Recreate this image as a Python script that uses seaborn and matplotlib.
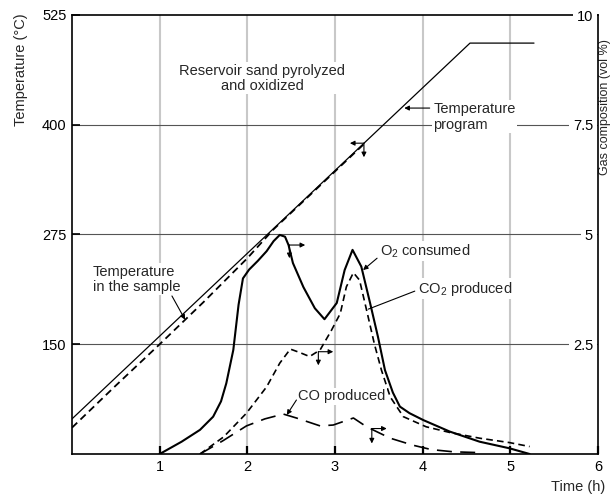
import matplotlib
matplotlib.use("Agg")
import matplotlib.pyplot as plt
import seaborn as sns

# ---------------- data ----------------
prog_time = [0.0, 4.54, 5.27]
prog_temp = [65, 493, 493]

sample_time = [0.0, 0.5, 1.0, 1.5, 2.0, 2.3, 2.8, 3.33]
sample_temp = [55, 103, 150, 198, 248, 281, 328, 378]

o2_time = [1.0, 1.25, 1.46, 1.61, 1.7, 1.76, 1.84, 1.9, 1.95, 2.02, 2.12, 2.22, 2.3,
           2.37, 2.43, 2.47, 2.52, 2.64, 2.77, 2.88, 3.02, 3.11, 3.2, 3.3, 3.4, 3.49,
           3.57, 3.66, 3.74, 3.85, 4.01, 4.31, 4.65, 4.99, 5.22]
o2_vol = [0.0, 0.28, 0.55, 0.85, 1.2, 1.61, 2.37, 3.4, 4.0, 4.2, 4.4, 4.62, 4.85,
          4.99, 4.95, 4.76, 4.35, 3.8, 3.32, 3.07, 3.44, 4.19, 4.65, 4.27, 3.44, 2.67,
          1.91, 1.4, 1.08, 0.93, 0.77, 0.51, 0.28, 0.13, 0.0]

co2_time = [1.46, 1.73, 1.99, 2.22, 2.37, 2.49, 2.60, 2.71, 2.83, 2.96, 3.06, 3.13,
            3.21, 3.28, 3.36, 3.45, 3.53, 3.63, 3.78, 4.04, 4.31, 4.65, 4.99, 5.22]
co2_vol = [0.0, 0.39, 0.93, 1.53, 2.07, 2.39, 2.31, 2.22, 2.37, 2.82, 3.2, 3.81,
           4.13, 3.96, 3.28, 2.5, 1.91, 1.3, 0.85, 0.62, 0.49, 0.36, 0.26, 0.17]

co_time = [1.46, 1.72, 1.99, 2.2, 2.41, 2.56, 2.83, 2.98, 3.21, 3.36, 3.63, 3.89,
           4.1, 4.35, 4.67]
co_vol = [0.0, 0.3, 0.64, 0.8, 0.91, 0.82, 0.64, 0.66, 0.82, 0.62, 0.36, 0.2,
          0.1, 0.05, 0.03]

time_ticks = [1, 2, 3, 4, 5, 6]
temp_ticks = [150, 275, 400, 525]
gas_ticks = [2.5, 5, 7.5, 10]
gas_tick_labels = ["2.5", "5", "7.5", "10"]

# ---------------- style ----------------
sns.set_theme(style="white")
plt.rcParams['font.family'] = ['Liberation Sans', 'DejaVu Sans']
plt.rcParams['mathtext.fontset'] = 'custom'
plt.rcParams['mathtext.rm'] = 'Liberation Sans'
plt.rcParams['mathtext.it'] = 'Liberation Sans:italic'
FS = 10.5

fig = plt.figure(figsize=(6.12, 4.94), dpi=100)
ax = fig.add_axes([72 / 612, 40 / 494, 526 / 612, 439 / 494])
ax2 = ax.twinx()

ax.set_xlim(0, 6)
ax.set_ylim(25, 525)
ax2.set_ylim(0, 10)

# grid
ax.vlines([1, 2, 3, 4, 5], 25, 525, color='#c8c8c8', lw=1.5, zorder=0)
ax.hlines([150, 275, 400], 0, 6, color='#555555', lw=0.8, zorder=0.5)

# temperature lines
sns.lineplot(x=prog_time, y=prog_temp, ax=ax, color='black', lw=0.9)
sns.lineplot(x=sample_time, y=sample_temp, ax=ax, color='black', lw=1.3,
             linestyle=(0, (4, 2.5)))

# gas lines
sns.lineplot(x=o2_time, y=o2_vol, ax=ax2, color='black', lw=1.5)
sns.lineplot(x=co2_time, y=co2_vol, ax=ax2, color='black', lw=1.2,
             linestyle=(0, (4, 2.5)))
sns.lineplot(x=co_time, y=co_vol, ax=ax2, color='black', lw=1.2,
             linestyle=(0, (9, 5)))

# spines
for s in ['left', 'bottom', 'top']:
    ax.spines[s].set_color('black')
    ax.spines[s].set_linewidth(1.2)
ax.spines['right'].set_visible(False)
for s in ['left', 'bottom', 'top']:
    ax2.spines[s].set_visible(False)
ax2.spines['right'].set_color('black')
ax2.spines['right'].set_linewidth(1.2)

# ticks
ax.set_xticks(time_ticks)
ax.set_xticklabels([str(t) for t in time_ticks], fontsize=FS)
ax.set_yticks(temp_ticks)
ax.set_yticklabels([str(t) for t in temp_ticks], fontsize=FS)
ax.tick_params(axis='x', direction='in', length=6, width=1.6, pad=4, colors='black')
ax.tick_params(axis='y', direction='in', length=6, width=1.2, pad=4, colors='black')
ax.tick_params(axis='both', left=True, bottom=True)

ax2.set_yticks(gas_ticks)
ax2.set_yticklabels(gas_tick_labels, fontsize=FS, ha='right')
ax2.tick_params(axis='y', length=0, pad=-3.6, colors='black')
for t in ax2.get_yticklabels():
    t.set_bbox(dict(facecolor='white', edgecolor='none', pad=2.5))

# axis labels
ax.set_xlabel("Time (h)", fontsize=FS)
ax.xaxis.set_label_coords(0.962, -0.059)
ax.set_ylabel("Temperature (\u00b0C)", fontsize=FS)
ax.yaxis.set_label_coords(-0.084, 0.875)
ax2.set_ylabel("Gas composition (vol %)", fontsize=9)
ax2.yaxis.set_label_coords(1.001, 0.79)

# text annotations
wb = dict(facecolor='white', edgecolor='none', pad=1.0)
ax.text(2.17, 453, "Reservoir sand pyrolyzed\nand oxidized", ha='center', va='center',
        fontsize=FS, bbox=wb, linespacing=1.1)
ax.text(4.12, 409, "Temperature\nprogram", ha='left', va='center', fontsize=FS,
        bbox=wb, linespacing=1.2)
ax.text(0.24, 224, "Temperature\nin the sample", ha='left', va='center', fontsize=FS,
        bbox=wb, linespacing=1.1)
ax2.text(3.51, 4.62, "O$_2$ consumed", ha='left', va='center', fontsize=FS, bbox=wb)
ax2.text(3.95, 3.76, "CO$_2$ produced", ha='left', va='center', fontsize=FS, bbox=wb)
ax2.text(2.58, 1.31, "CO produced", ha='left', va='center', fontsize=FS, bbox=wb)

arw = dict(arrowstyle='-|>', color='black', lw=0.8, mutation_scale=7,
           shrinkA=0, shrinkB=0)
lin = dict(arrowstyle='-', color='black', lw=0.8, shrinkA=0, shrinkB=0)

# label leader arrows
ax.annotate("", xy=(3.79, 419), xytext=(4.08, 419), arrowprops=arw)
ax.annotate("", xy=(1.29, 178), xytext=(1.14, 205), arrowprops=arw)
ax2.annotate("", xy=(3.32, 4.19), xytext=(3.48, 4.46), arrowprops=arw)
ax2.annotate("", xy=(3.38, 3.30), xytext=(3.91, 3.71), arrowprops=lin)
ax2.annotate("", xy=(2.45, 0.89), xytext=(2.56, 1.23), arrowprops=arw)

# axis pointer arrows
ax.annotate("", xy=(3.17, 379), xytext=(3.33, 379), arrowprops=arw)
ax.annotate("", xy=(3.33, 363), xytext=(3.33, 379), arrowprops=arw)
for (bx, by, dx, dy) in [(2.48, 4.76, 2.66, 4.46), (2.81, 2.33, 2.98, 2.02),
                         (3.42, 0.58, 3.59, 0.24)]:
    ax2.annotate("", xy=(dx, by), xytext=(bx, by), arrowprops=arw)
    ax2.annotate("", xy=(bx, dy), xytext=(bx, by), arrowprops=arw)

fig.savefig("out.png", dpi=100)
